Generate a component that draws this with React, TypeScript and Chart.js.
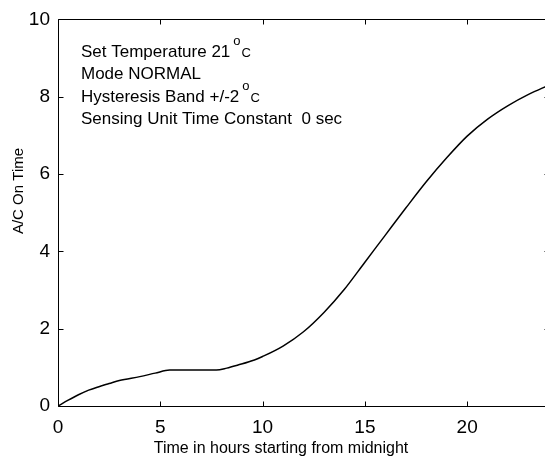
import React, { useEffect, useRef } from "react";
import { Chart, registerables } from "chart.js";

Chart.register(...registerables);

// ---- data ----
const hours: number[] = [
  0, 0.5, 1, 1.5, 2, 2.5, 3, 4, 4.75, 5.46, 6.5, 7.74, 8.25, 8.8, 9.6, 10, 11,
  12, 13, 14, 15, 16, 17, 18, 19, 20, 21, 22, 23, 24,
];
const onTime: number[] = [
  0, 0.15, 0.29, 0.41, 0.5, 0.58, 0.66, 0.76, 0.85, 0.93, 0.93, 0.93, 0.98,
  1.06, 1.19, 1.28, 1.55, 1.92, 2.42, 3.02, 3.72, 4.42, 5.12, 5.8, 6.42, 6.98,
  7.42, 7.77, 8.06, 8.3,
];
const xTicks: number[] = [0, 5, 10, 15, 20];
const yTicks: number[] = [0, 2, 4, 6, 8, 10];

const xTitle = "Time in hours starting from midnight";
const yTitle = "A/C On Time";
// annotation lines: [main text, superscript, trailing text]
const notes: [string, string, string][] = [
  ["Set Temperature 21", "o", "C"],
  ["Mode NORMAL", "", ""],
  ["Hysteresis Band +/-2", "o", "C"],
  ["Sensing Unit Time Constant  0 sec", "", ""],
];

const FONT = "'Liberation Sans', Arial, Helvetica, sans-serif";

const framePlugin = {
  id: "matlabFrame",
  afterDraw(chart: any) {
    const { ctx, chartArea: a, scales } = chart;
    const xs = scales.x;
    const ys = scales.y;
    ctx.save();
    ctx.strokeStyle = "#000";
    ctx.lineWidth = 1;
    ctx.beginPath();
    const L = Math.round(a.left) + 0.5;
    const R = Math.round(a.right) + 0.5;
    const T = Math.round(a.top) + 0.5;
    const B = Math.round(a.bottom) + 0.5;
    ctx.rect(L, T, R - L, B - T);
    const tl = 5;
    xTicks.forEach((v) => {
      const px = Math.round(xs.getPixelForValue(v)) + 0.5;
      ctx.moveTo(px, B);
      ctx.lineTo(px, B - tl);
      ctx.moveTo(px, T);
      ctx.lineTo(px, T + tl);
    });
    yTicks.forEach((v) => {
      const py = Math.round(ys.getPixelForValue(v)) + 0.5;
      ctx.moveTo(L, py);
      ctx.lineTo(L + tl, py);
      ctx.moveTo(R, py);
      ctx.lineTo(R - tl, py);
    });
    ctx.stroke();

    // annotations
    ctx.fillStyle = "#000";
    ctx.textBaseline = "alphabetic";
    ctx.textAlign = "left";
    const x0 = 81;
    const base0 = 57;
    const lh = 22.3;
    notes.forEach(([main, sup, tail], i) => {
      const by = base0 + i * lh;
      ctx.font = `17px ${FONT}`;
      ctx.fillText(main, x0, by);
      let x = x0 + ctx.measureText(main).width + 3;
      if (sup) {
        ctx.font = `13px ${FONT}`;
        ctx.fillText(sup, x, by - 12);
        x += ctx.measureText(sup).width + 1;
      }
      if (tail) {
        ctx.font = `13px ${FONT}`;
        ctx.fillText(tail, x, by);
      }
    });

    // axis titles
    ctx.font = `16px ${FONT}`;
    ctx.textAlign = "center";
    ctx.fillText(xTitle, 281, 453);
    ctx.save();
    ctx.translate(23, 191);
    ctx.rotate(-Math.PI / 2);
    ctx.font = `15px ${FONT}`;
    ctx.fillText(yTitle, 0, 0);
    ctx.restore();
    ctx.restore();
  },
};

export default function App() {
  const ref = useRef<HTMLCanvasElement | null>(null);
  useEffect(() => {
    document.body.style.overflow = "hidden";
    document.documentElement.style.overflow = "hidden";
    const canvas = ref.current!;
    const chart = new Chart(canvas, {
      type: "line",
      data: {
        datasets: [
          {
            data: hours.map((h, i) => ({ x: h, y: onTime[i] })),
            borderColor: "#000",
            borderWidth: 1.5,
            pointRadius: 0,
            fill: false,
            cubicInterpolationMode: "monotone",
          },
        ],
      },
      options: {
        responsive: false,
        animation: false,
        devicePixelRatio: 1,
        layout: { padding: { top: 19, right: 11, left: 0, bottom: 0 } },
        plugins: {
          legend: { display: false },
          tooltip: { enabled: false },
        },
        scales: {
          x: {
            type: "linear",
            min: 0,
            max: 24,
            grid: { display: false, drawTicks: false },
            border: { display: false },
            afterFit: (s: any) => {
              s.height = 53;
            },
            afterBuildTicks: (s: any) => {
              s.ticks = xTicks.map((v) => ({ value: v }));
            },
            ticks: {
              padding: 10,
              color: "#000",
              font: { family: FONT, size: 19 },
              maxRotation: 0,
            },
          },
          y: {
            type: "linear",
            min: 0,
            max: 10,
            grid: { display: false, drawTicks: false },
            border: { display: false },
            afterFit: (s: any) => {
              s.width = 58;
            },
            afterBuildTicks: (s: any) => {
              s.ticks = yTicks.map((v) => ({ value: v }));
            },
            ticks: {
              padding: 8,
              color: "#000",
              font: { family: FONT, size: 19 },
            },
          },
        },
      },
      plugins: [framePlugin],
    } as any);
    return () => chart.destroy();
  }, []);
  return (
    <div
      style={{
        position: "fixed",
        left: 0,
        top: 0,
        width: 560,
        height: 459,
        background: "#fff",
      }}
    >
      <canvas ref={ref} width={560} height={459} style={{ display: "block" }} />
    </div>
  );
}
